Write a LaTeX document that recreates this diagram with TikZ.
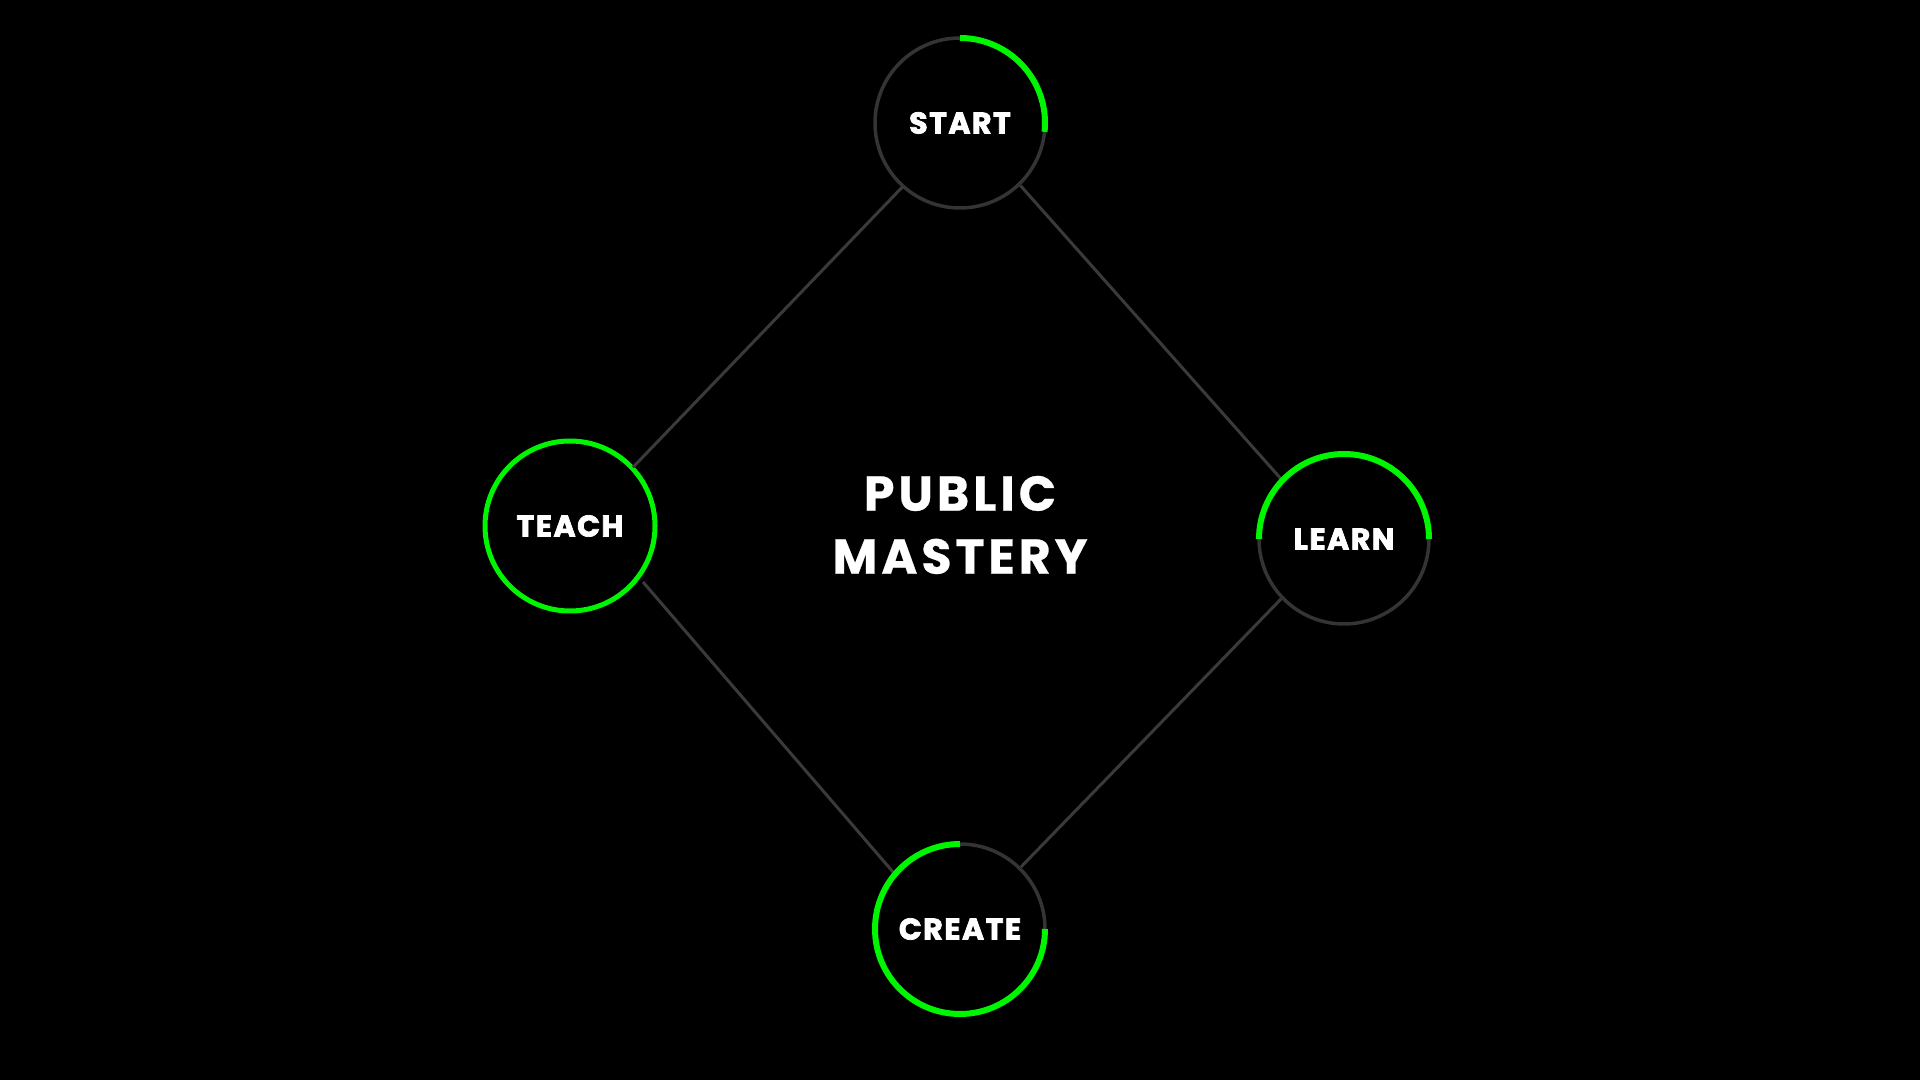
\documentclass[tikz,border=0pt]{standalone}
\usepackage{fontspec}
\setmainfont{Poppins}
\newfontfamily\labelfont{Poppins}[LetterSpace=5, FakeBold=2.5]
\newfontfamily\titlefont{Poppins}[LetterSpace=8, FakeBold=0.5]
\definecolor{ringgray}{RGB}{52,52,52}
\definecolor{linegray}{RGB}{58,58,58}
\definecolor{brightgreen}{RGB}{0,245,0}
\begin{document}
\begin{tikzpicture}[x=1pt,y=1pt,
  stage/.style={circle, draw=ringgray, line width=3.5pt, minimum size=170pt, inner sep=0pt,
    text=white, font=\fontsize{30}{30}\labelfont\bfseries},
  greenarc/.style={draw=brightgreen, line width=6pt},
  link/.style={draw=linegray, line width=3pt}]
\fill[black] (0,0) rectangle (1920,1080);
\useasboundingbox (0,0) rectangle (1920,1080);
\node[stage] (start) at (960,957) {START};
\node[stage, draw=brightgreen, line width=5pt] (teach) at (570,554) {TEACH};
\node[stage] (learn) at (1344,541) {LEARN};
\node[stage] (create) at (960,151) {CREATE};
\node[text=white, align=center, font=\fontsize{49}{63}\titlefont\bfseries] (title) at (960,555) {PUBLIC\\MASTERY};
\coordinate (tc1) at ([shift={(-37.5:92)}]teach.center);
\coordinate (tc2) at ([shift={(139.6:88)}]create.center);
\draw[link] ([shift={(228:86)}]start.center) -- ([shift={(43:86)}]teach.center);
\draw[link] ([shift={(-46:87)}]start.center) -- ([shift={(136.4:86)}]learn.center);
\draw[link] (tc1) -- (tc2);
\draw[link] ([shift={(223.6:87)}]learn.center) -- ([shift={(45.5:87)}]create.center);
\draw[greenarc] ([shift={(90:85)}]start.center) arc[start angle=90, end angle=-6, radius=85];
\draw[greenarc] ([shift={(180:85)}]learn.center) arc[start angle=180, end angle=0, radius=85];
\draw[greenarc] ([shift={(90:85)}]create.center) arc[start angle=90, end angle=360, radius=85];
\end{tikzpicture}
\end{document}
